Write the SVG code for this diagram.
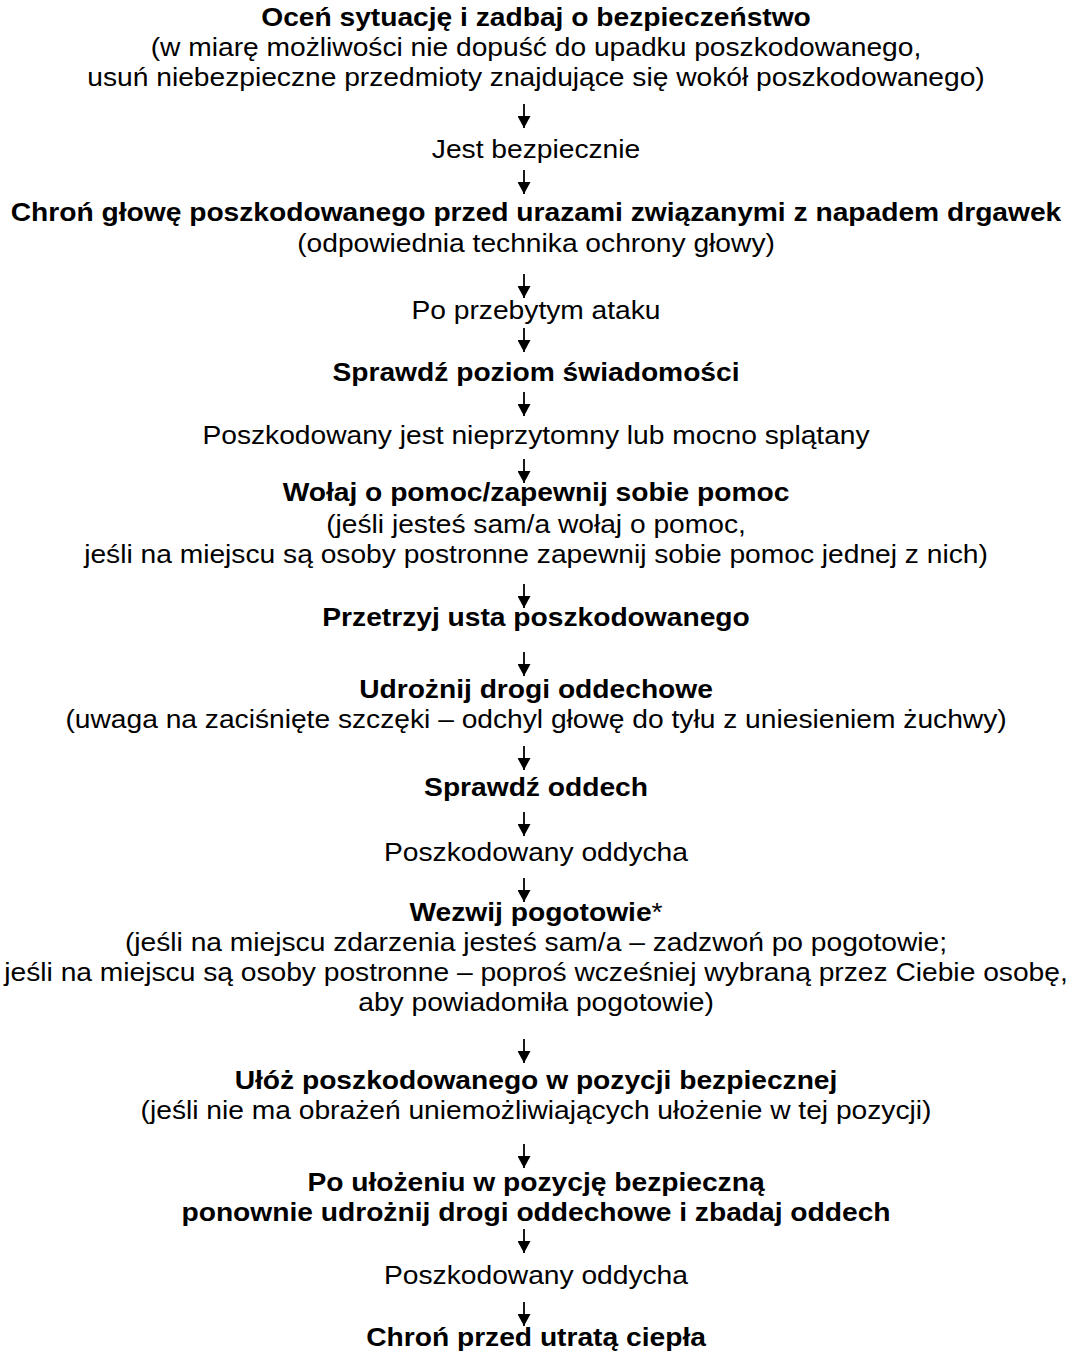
<svg xmlns="http://www.w3.org/2000/svg" width="1072" height="1354" viewBox="0 0 1072 1354">
<style>
text{font-family:"Liberation Sans",Arial,sans-serif;font-size:25px;fill:#000;text-anchor:middle}
.b{font-weight:bold}
.n{font-weight:normal}
.c line{stroke:#000;stroke-width:1.8}
</style>
<defs>
<marker id="ah" viewBox="0 0 12 13" markerWidth="12" markerHeight="13" refX="12" refY="6.5" orient="auto" markerUnits="userSpaceOnUse">
<path d="M0,0 L12,6.5 L0,13 z" fill="#000"/>
</marker>
</defs>
<rect width="1072" height="1354" fill="#fff"/>
<g transform="scale(1.128 1)">
<g id="n1"><text class="b" x="475.2" y="26">Oceń sytuację i zadbaj o bezpieczeństwo</text><text x="475.2" y="56">(w miarę możliwości nie dopuść do upadku poszkodowanego,</text><text x="475.2" y="86">usuń niebezpieczne przedmioty znajdujące się wokół poszkodowanego)</text></g>
<g id="n2"><text x="475.2" y="158">Jest bezpiecznie</text></g>
<g id="n3"><text class="b" x="475.2" y="221">Chroń głowę poszkodowanego przed urazami związanymi z napadem drgawek</text><text x="475.2" y="252">(odpowiednia technika ochrony głowy)</text></g>
<g id="n4"><text x="475.2" y="319">Po przebytym ataku</text></g>
<g id="n5"><text class="b" x="475.2" y="381">Sprawdź poziom świadomości</text></g>
<g id="n6"><text x="475.2" y="444">Poszkodowany jest nieprzytomny lub mocno splątany</text></g>
<g id="n7"><text class="b" x="475.2" y="501">Wołaj o pomoc/zapewnij sobie pomoc</text><text x="475.2" y="533">(jeśli jesteś sam/a wołaj o pomoc,</text><text x="475.2" y="563">jeśli na miejscu są osoby postronne zapewnij sobie pomoc jednej z nich)</text></g>
<g id="n8"><text class="b" x="475.2" y="626">Przetrzyj usta poszkodowanego</text></g>
<g id="n9"><text class="b" x="475.2" y="698">Udrożnij drogi oddechowe</text><text x="475.2" y="728">(uwaga na zaciśnięte szczęki – odchyl głowę do tyłu z uniesieniem żuchwy)</text></g>
<g id="n10"><text class="b" x="475.2" y="796">Sprawdź oddech</text></g>
<g id="n11"><text x="475.2" y="861">Poszkodowany oddycha</text></g>
<g id="n12"><text class="b" x="475.2" y="921">Wezwij pogotowie<tspan class="n">*</tspan></text><text x="475.2" y="951">(jeśli na miejscu zdarzenia jesteś sam/a – zadzwoń po pogotowie;</text><text x="475.2" y="981">jeśli na miejscu są osoby postronne – poproś wcześniej wybraną przez Ciebie osobę,</text><text x="475.2" y="1011">aby powiadomiła pogotowie)</text></g>
<g id="n13"><text class="b" x="475.2" y="1089">Ułóż poszkodowanego w pozycji bezpiecznej</text><text x="475.2" y="1119">(jeśli nie ma obrażeń uniemożliwiających ułożenie w tej pozycji)</text></g>
<g id="n14"><text class="b" x="475.2" y="1191">Po ułożeniu w pozycję bezpieczną</text><text class="b" x="475.2" y="1221">ponownie udrożnij drogi oddechowe i zbadaj oddech</text></g>
<g id="n15"><text x="475.2" y="1284">Poszkodowany oddycha</text></g>
<g id="n16"><text class="b" x="475.2" y="1346">Chroń przed utratą ciepła</text></g>
</g>
<g id="connectors" class="c">
<line x1="524" y1="104" x2="524" y2="128" marker-end="url(#ah)"/>
<line x1="524" y1="170" x2="524" y2="194" marker-end="url(#ah)"/>
<line x1="524" y1="274" x2="524" y2="298" marker-end="url(#ah)"/>
<line x1="524" y1="328" x2="524" y2="352" marker-end="url(#ah)"/>
<line x1="524" y1="392" x2="524" y2="416" marker-end="url(#ah)"/>
<line x1="524" y1="459" x2="524" y2="483" marker-end="url(#ah)"/>
<line x1="524" y1="584" x2="524" y2="608" marker-end="url(#ah)"/>
<line x1="524" y1="652" x2="524" y2="676" marker-end="url(#ah)"/>
<line x1="524" y1="746" x2="524" y2="770" marker-end="url(#ah)"/>
<line x1="524" y1="812" x2="524" y2="836" marker-end="url(#ah)"/>
<line x1="524" y1="878" x2="524" y2="902" marker-end="url(#ah)"/>
<line x1="524" y1="1039" x2="524" y2="1063" marker-end="url(#ah)"/>
<line x1="524" y1="1144" x2="524" y2="1168" marker-end="url(#ah)"/>
<line x1="524" y1="1229" x2="524" y2="1253" marker-end="url(#ah)"/>
<line x1="524" y1="1302" x2="524" y2="1326" marker-end="url(#ah)"/>
</g>
</svg>
